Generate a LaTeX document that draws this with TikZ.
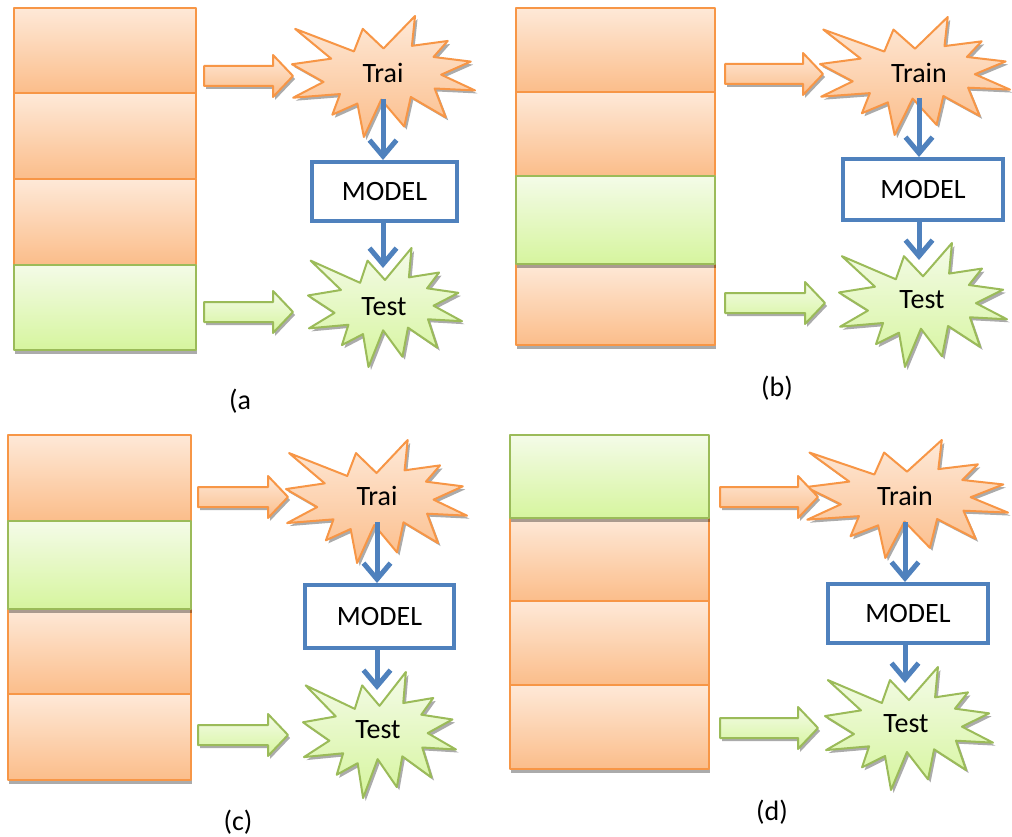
\documentclass[tikz,border=0pt]{standalone}
\usepackage{fontspec}
\setmainfont{Carlito}
\usetikzlibrary{arrows.meta}
\definecolor{orB}{HTML}{F79646}
\definecolor{orT}{HTML}{FEE9D8}
\definecolor{orD}{HTML}{FBBD8A}
\definecolor{grB}{HTML}{9BBB59}
\definecolor{grT}{HTML}{F4FBE8}
\definecolor{grD}{HTML}{D6F59E}
\definecolor{bluM}{HTML}{4F81BD}
\tikzset{
  shadowc/.style={fill=black,fill opacity=0.33,draw=none},
  orfill/.style={draw=orB,line width=2pt,top color=orT,bottom color=orD,line join=round},
  grfill/.style={draw=grB,line width=2pt,top color=grT,bottom color=grD,line join=round},
  explpath/.style={insert path={(0.5,0.2685) -- (0.6723,0) -- (0.6553,0.2465) -- (0.8509,0.2063) -- (0.7732,0.3387) -- (0.9767,0.3767) -- (0.8151,0.4850) -- (1,0.6153) -- (0.7795,0.5992) -- (0.8400,0.8377) -- (0.6491,0.6693) -- (0.6133,0.9137) -- (0.4876,0.6914) -- (0.3928,1) -- (0.3572,0.7235) -- (0.2205,0.8156) -- (0.2624,0.6452) -- (0.00625,0.6753) -- (0.1723,0.5451) -- (0,0.3988) -- (0.2142,0.3526) -- (0.0171,0.1063) -- (0.3385,0.2926) -- (0.3867,0.1063) -- cycle}},
  txt/.style={font=\fontsize{28}{32}\selectfont,inner sep=0pt},
  modelbox/.style={draw=bluM,line width=4pt,fill=white,font=\fontsize{28}{32}\selectfont,inner sep=0pt},
  bluearr/.style={draw=bluM,line width=5pt,-{Straight Barb[length=16pt,width=27pt]}},
}
\newcommand\explosion[5]{%
  \begin{scope}[shift={({#1+2.5},{#2+3})},xscale=#3,yscale=#4]
    \fill[shadowc,explpath];
  \end{scope}
  \begin{scope}[shift={(#1,#2)},xscale=#3,yscale=#4]
    \path[#5,explpath];
  \end{scope}}
\newcommand\arrowshape[3]{({#1},{#3-10}) -- ({#2-20},{#3-10}) -- ({#2-20},{#3-21}) -- ({#2},{#3}) -- ({#2-20},{#3+21}) -- ({#2-20},{#3+10}) -- ({#1},{#3+10}) -- cycle}
\newcommand\blockarrow[4]{%
  \fill[shadowc,shift={(2,3)}] \arrowshape{#1}{#2}{#3};
  \path[#4] \arrowshape{#1}{#2}{#3};}
\newcommand\stackrow[5]{%
  \fill[shadowc] ({#1+1},{#2+4}) rectangle ({#3+1},{#4+4});
  \path[#5] (#1,#2) rectangle (#3,#4);}
\begin{document}
\begin{tikzpicture}[x=1pt,y=-1pt]
\useasboundingbox[fill=white] (0,0) rectangle (1012,837);

% ---------- panel (a)
\stackrow{14}{8}{196}{93.5}{orfill}
\stackrow{14}{93.5}{196}{179}{orfill}
\stackrow{14}{179}{196}{264.5}{orfill}
\stackrow{14}{264.5}{196}{350}{grfill}
\explosion{292}{16}{183}{121}{orfill}
\explosion{308}{248}{154}{119}{grfill}
\blockarrow{204}{293}{76}{orfill}
\blockarrow{204}{293}{312}{grfill}
\node[txt] (trA) at (383,73) {Trai};
\node[txt] (teA) at (384,307) {Test};
\node[modelbox,minimum width=145pt,minimum height=59pt] (mdA) at (384.5,191.5) {MODEL};
\draw[bluearr] ([yshift=-26pt]trA.center) -- (trA.center |- mdA.north);
\coordinate (tipA) at ([yshift=39pt]teA.center -| trA.center);
\draw[bluearr] (mdA.south -| trA.center) -- (tipA);
\node[txt] (labA) at (240,401) {(a};

% ---------- panel (b)
\stackrow{516}{8}{715}{92}{orfill}
\stackrow{516}{92}{715}{176}{orfill}
\stackrow{516}{264}{715}{345}{orfill}
\stackrow{516}{176}{715}{264}{grfill}
\explosion{820}{17}{190}{118}{orfill}
\explosion{839}{243}{168}{124}{grfill}
\blockarrow{725}{823}{74}{orfill}
\blockarrow{725}{825}{303}{grfill}
\node[txt] (trB) at (919,73) {Train};
\node[txt] (teB) at (922,300) {Test};
\node[modelbox,minimum width=160pt,minimum height=61pt] (mdB) at (923,189.5) {MODEL};
\draw[bluearr] ([yshift=-25pt]trB.center) -- (trB.center |- mdB.north);
\coordinate (tipB) at ([yshift=40pt]teB.center -| trB.center);
\draw[bluearr] (mdB.south -| trB.center) -- (tipB);
\node[txt] (labB) at (777,388) {(b)};

% ---------- panel (c)
\stackrow{8}{435}{191}{521}{orfill}
\stackrow{8}{609}{191}{694}{orfill}
\stackrow{8}{694}{191}{780}{orfill}
\stackrow{8}{521}{191}{609}{grfill}
\explosion{286}{440}{181}{123}{orfill}
\explosion{303}{672}{153}{126}{grfill}
\blockarrow{198}{288}{497}{orfill}
\blockarrow{198}{288}{735}{grfill}
\node[txt] (trC) at (377,496) {Trai};
\node[txt] (teC) at (378,730) {Test};
\node[modelbox,minimum width=149pt,minimum height=63pt] (mdC) at (379.5,616.5) {MODEL};
\draw[bluearr] ([yshift=-26pt]trC.center) -- (trC.center |- mdC.north);
\coordinate (tipC) at ([yshift=40pt]teC.center -| trC.center);
\draw[bluearr] (mdC.south -| trC.center) -- (tipC);
\node[txt] (labC) at (238,822) {(c)};

% ---------- panel (d)
\stackrow{510}{518}{709}{601}{orfill}
\stackrow{510}{601}{709}{685}{orfill}
\stackrow{510}{685}{709}{769}{orfill}
\stackrow{510}{435}{709}{518}{grfill}
\explosion{806}{440}{202}{118}{orfill}
\explosion{825}{667}{168}{123}{grfill}
\blockarrow{720}{818}{497}{orfill}
\blockarrow{720}{818}{728}{grfill}
\node[txt] (trD) at (905,496) {Train};
\node[txt] (teD) at (906,724) {Test};
\node[modelbox,minimum width=160pt,minimum height=59pt] (mdD) at (908,613.5) {MODEL};
\draw[bluearr] ([yshift=-26pt]trD.center) -- (trD.center |- mdD.north);
\coordinate (tipD) at ([yshift=41pt]teD.center -| trD.center);
\draw[bluearr] (mdD.south -| trD.center) -- (tipD);
\node[txt] (labD) at (772,812) {(d)};
\end{tikzpicture}
\end{document}
